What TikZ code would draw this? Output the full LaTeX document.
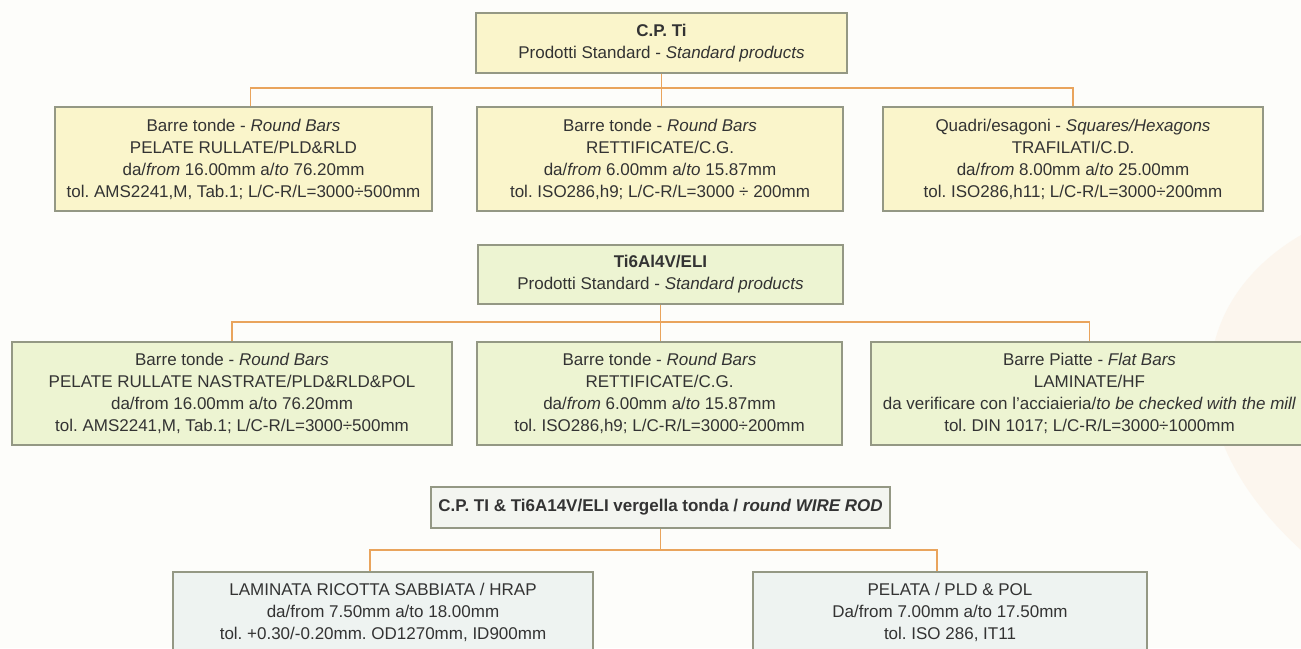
\documentclass[tikz,border=0pt]{standalone}
\usepackage{fontspec}
\setmainfont{Liberation Sans}
\usetikzlibrary{positioning,calc}
\definecolor{bgwhite}{HTML}{FDFDFA}
\definecolor{watermark}{HTML}{FCF6EE}
\definecolor{paleyellow}{HTML}{FAF5CB}
\definecolor{palegreen}{HTML}{EDF4D2}
\definecolor{palecyan}{HTML}{EEF3F1}
\definecolor{rodhead}{HTML}{F3F5F0}
\definecolor{boxline}{HTML}{949884}
\definecolor{linkorange}{HTML}{E9A45C}
\definecolor{textgray}{HTML}{333333}
\frenchspacing

\begin{document}
\begin{tikzpicture}[x=1pt,y=-1pt,
    box/.style={draw=boxline,line width=1.6pt,align=center,inner sep=0pt,
                text=textgray,font=\fontsize{17}{22}\selectfont},
    std box/.style={box,fill=paleyellow},
    eli box/.style={box,fill=palegreen},
    rod box/.style={box,fill=palecyan},
    link/.style={draw=linkorange,line width=1.6pt}]
    \useasboundingbox (0,0) rectangle (1301,648);
    \fill[bgwhite] (0,0) rectangle (1301,648);
    \fill[watermark] (1301,235) .. controls (1190,300) and (1170,430) .. (1301,550) -- cycle;

    % C.P. Ti
    \node[std box,minimum width=371pt,minimum height=60pt] (cpti) at (661.5,43)
        {\textbf{C.P. Ti}\\Prodotti Standard - \textit{Standard products}};
    \node[std box,minimum width=377pt,minimum height=104pt] (b1) at (243.5,159)
        {Barre tonde - \textit{Round Bars}\\PELATE RULLATE/PLD\&RLD\\
         da/\textit{from} 16.00mm a/\textit{to} 76.20mm\\
         tol. AMS2241,M, Tab.1; L/C-R/L=3000÷500mm};
    \node[std box,minimum width=366pt,minimum height=104pt] (b2) at (660,159)
        {Barre tonde - \textit{Round Bars}\\RETTIFICATE/C.G.\\
         da/\textit{from} 6.00mm a/\textit{to} 15.87mm\\
         tol. ISO286,h9; L/C-R/L=3000 ÷ 200mm};
    \node[std box,minimum width=380pt,minimum height=104pt] (b3) at (1073,159)
        {Quadri/esagoni - \textit{Squares/Hexagons}\\TRAFILATI/C.D.\\
         da/\textit{from} 8.00mm a/\textit{to} 25.00mm\\
         tol. ISO286,h11; L/C-R/L=3000÷200mm};

    % Ti6Al4V/ELI
    \node[eli box,minimum width=365pt,minimum height=59pt] (eli) at (660.5,274.5)
        {\textbf{Ti6Al4V/ELI}\\Prodotti Standard - \textit{Standard products}};
    \node[eli box,minimum width=440pt,minimum height=103pt] (b4) at (232,393.5)
        {Barre tonde - \textit{Round Bars}\\PELATE RULLATE NASTRATE/PLD\&RLD\&POL\\
         da/from 16.00mm a/to 76.20mm\\
         tol. AMS2241,M, Tab.1; L/C-R/L=3000÷500mm};
    \node[eli box,minimum width=365pt,minimum height=103pt] (b5) at (659.5,393.5)
        {Barre tonde - \textit{Round Bars}\\RETTIFICATE/C.G.\\
         da/\textit{from} 6.00mm a/\textit{to} 15.87mm\\
         tol. ISO286,h9; L/C-R/L=3000÷200mm};
    \node[eli box,minimum width=437pt,minimum height=103pt] (b6) at (1089.5,393.5)
        {Barre Piatte - \textit{Flat Bars}\\LAMINATE/HF\\
         da verificare con l'acciaieria/\textit{to be checked with the mill}\\
         tol. DIN 1017; L/C-R/L=3000÷1000mm};

    % wire rod
    \node[box,fill=rodhead,minimum width=459pt,minimum height=41pt] (rod) at (660.5,507.5)
        {\textbf{C.P. TI \& Ti6A14V/ELI vergella tonda / \textit{round WIRE ROD}}};
    \node[rod box,minimum width=420pt,minimum height=80pt] (w1) at (383,612)
        {LAMINATA RICOTTA SABBIATA / HRAP\\da/from 7.50mm a/to 18.00mm\\
         tol. +0.30/-0.20mm. OD1270mm, ID900mm};
    \node[rod box,minimum width=394pt,minimum height=80pt] (w2) at (950,612)
        {PELATA / PLD \& POL\\Da/from 7.00mm a/to 17.50mm\\tol. ISO 286, IT11};

    % connectors
    \coordinate (bus1) at (661.5,88);
    \coordinate (bus2) at (660.5,322);
    \coordinate (bus3) at (660.5,550);
    \draw[link] (cpti.south) -- (cpti.south |- b2.north);
    \draw[link] ([xshift=7pt]b1.north) |- (bus1) -| (b3.north);
    \draw[link] (eli.south) -- (eli.south |- b5.north);
    \draw[link] (b4.north) |- (bus2) -| (b6.north);
    \draw[link] (rod.south) -- (bus3);
    \draw[link] ([xshift=-13pt]w1.north) |- (bus3) -| ([xshift=-13pt]w2.north);
\end{tikzpicture}
\end{document}
